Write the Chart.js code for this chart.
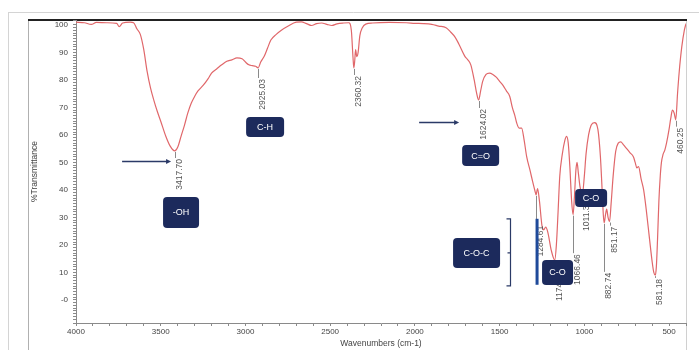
<!DOCTYPE html>
<html>
<head>
<meta charset="utf-8">
<script src="https://cdn.jsdelivr.net/npm/chart.js@4.4.1/dist/chart.umd.min.js"></script>
<style>
  html, body { margin: 0; padding: 0; background: #fff; }
  canvas { display: block; }
</style>
</head>
<body>
<canvas id="ftir" width="699" height="350" style="width:699px;height:350px"></canvas>
<script>
// FTIR spectrum, wavenumber (cm-1) vs % transmittance
const wavenumbers = [
  4000, 3950, 3910, 3880, 3820, 3760, 3745, 3725, 3680, 3660, 3640, 3620, 3600, 3580, 3560,
  3540, 3520, 3500, 3470, 3445, 3417.70, 3400, 3380, 3360, 3340, 3320, 3300, 3280, 3250, 3220,
  3200, 3170, 3140, 3110, 3080, 3050, 3020, 3000, 2980, 2960, 2940, 2925.03, 2910, 2890, 2870,
  2850, 2820, 2790, 2750, 2700, 2670, 2640, 2610, 2580, 2550, 2520, 2490, 2460, 2420, 2390,
  2375, 2365, 2360.32, 2355, 2350, 2343, 2335, 2325, 2310, 2290, 2250, 2150, 2050, 2000, 1950,
  1900, 1860, 1816, 1790, 1763, 1740, 1704, 1690, 1670, 1650, 1635, 1624.02, 1612, 1600, 1580,
  1560, 1540, 1520, 1500, 1480, 1460, 1440, 1425, 1410, 1400, 1385, 1370, 1355, 1340, 1320,
  1305, 1292, 1284.61, 1276, 1265, 1250, 1240, 1228, 1215, 1195, 1174.52, 1165, 1155, 1145, 1130,
  1115, 1105, 1095, 1085, 1075, 1066.46, 1058, 1050, 1043, 1035, 1025, 1011.34, 1000, 990, 975,
  960, 940, 920, 905, 895, 888, 882.74, 875, 868, 860, 851.17, 842, 830, 815, 800,
  785, 770, 750, 730, 710, 700, 690, 680, 665, 650, 635, 615, 600, 590, 581.18,
  575, 568, 560, 552, 545, 535, 525, 515, 500, 490, 480, 470, 460.25, 450, 440,
  425, 410, 400
];
const transmittance = [
  101.0, 100.8, 100.2, 100.9, 100.8, 100.6, 99.4, 100.7, 101.0, 100.8, 98.5, 96.5, 91, 83, 77,
  72.5, 68.5, 65, 59.5, 56, 54.2, 55.5, 59.5, 63.5, 68, 71.5, 74, 76, 78, 80.5,
  82.5, 84, 85.5, 86.8, 87.3, 88, 87.7, 86.5, 85.5, 85.2, 85.0, 84.4, 86.5, 88.5, 91.5,
  94.5, 96.5, 98, 99.5, 101, 101.1, 100.5, 99.8, 100.5, 100.7, 100.2, 99.8, 100.4, 100.7, 100.8,
  98, 88, 84.4, 87, 91, 88.5, 90, 96, 99, 100.3, 100.7, 100.9, 100.8, 100.6, 100.5,
  100.2, 99.6, 99, 97.5, 95.6, 93, 88.5, 87.5, 85.5, 80, 75, 72.7, 76, 79.5, 82,
  82.5, 82, 81, 79.5, 78, 76, 74, 70, 67, 64.5, 62.5, 62.5, 58, 52, 47,
  43, 39.8, 38.2, 40.5, 36, 27, 25.5, 26.5, 24.5, 18, 14.5, 20, 32, 45, 53,
  58, 59.5, 57, 48, 36, 31, 38, 47, 50, 46, 41, 38.5, 45, 53, 60,
  63.5, 64.5, 62, 52, 40, 31, 28, 31, 33, 30, 28.5, 35, 45, 54, 57,
  57.5, 56.5, 55, 53.5, 52, 50, 48, 48.5, 44, 40, 33, 22, 14, 10, 9,
  12, 22, 36, 45, 50, 53, 54.5, 57, 62, 66, 69, 68, 65.5, 75, 83,
  92, 98, 100.5
];

// Labelled peak positions and their printed values
const peakWavenumbers = [3417.70, 2925.03, 2360.32, 1624.02, 1284.61, 1174.52, 1066.46, 1011.34, 882.74, 851.17, 581.18, 460.25];
const peakTexts = ['3417.70', '2925.03', '2360.32', '1624.02', '1284.61', '1174.52', '1066.46', '1011.34', '882.74', '851.17', '581.18', '460.25'];

// Band assignment tags
const bandTags = ['-OH', 'C-H', 'C=O', 'C-O-C', 'C-O', 'C-O'];

// Axis tick values
const xMajorTicks = [4000, 3500, 3000, 2500, 2000, 1500, 1000, 500];
const yMajorTicks = [100, 90, 80, 70, 60, 50, 40, 30, 20, 10, 0];

const spectrum = wavenumbers.map((w, i) => ({ x: w, y: transmittance[i] }));

function tValueAt(w) {
  const i = wavenumbers.indexOf(w);
  return transmittance[i];
}

const FONT = '"Liberation Sans", Arial, sans-serif';

// Frame around the plot, peak markers, band tags, arrows and bracket
const spectrumMarkup = {
  id: 'spectrumMarkup',
  beforeDraw(chart) {
    const ctx = chart.ctx;
    const W = chart.width, H = chart.height;
    ctx.save();
    ctx.fillStyle = '#ffffff';
    ctx.fillRect(0, 0, W, H);
    ctx.lineWidth = 1;
    ctx.strokeStyle = '#d4d4d4';
    ctx.beginPath();
    ctx.moveTo(8, 12.5); ctx.lineTo(W, 12.5);
    ctx.moveTo(8.5, 12); ctx.lineTo(8.5, H);
    ctx.stroke();
    ctx.strokeStyle = '#b0b0b0';
    ctx.beginPath();
    ctx.moveTo(28.5, 20); ctx.lineTo(28.5, H);
    ctx.stroke();
    ctx.strokeStyle = '#d0d0d0';
    ctx.beginPath();
    ctx.moveTo(686.5, 20); ctx.lineTo(686.5, H);
    ctx.stroke();
    ctx.strokeStyle = '#222';
    ctx.lineWidth = 2;
    ctx.beginPath();
    ctx.moveTo(28, 20); ctx.lineTo(687, 20);
    ctx.stroke();
    ctx.restore();
  },
  afterDatasetsDraw(chart, args, opts) {
    const ctx = chart.ctx;
    const xs = chart.scales.x, ys = chart.scales.y;
    const px = v => xs.getPixelForValue(v);
    const py = v => ys.getPixelForValue(v);
    ctx.save();

    // peak leader lines and rotated values
    ctx.font = '8.5px ' + FONT;
    peakWavenumbers.forEach((w, i) => {
      const x = Math.round(px(w)) + 0.5;
      const yTop = py(tValueAt(w)) + 1;
      const yEnd = py(opts.labelTops[i]);
      ctx.strokeStyle = '#8a8a8a';
      ctx.lineWidth = 1;
      ctx.beginPath();
      ctx.moveTo(x, yTop);
      ctx.lineTo(x, yEnd);
      ctx.stroke();
      ctx.save();
      ctx.translate(x + 4.5, yEnd + 1);
      ctx.rotate(-Math.PI / 2);
      ctx.fillStyle = '#555';
      ctx.textAlign = 'right';
      ctx.textBaseline = 'middle';
      ctx.fillText(peakTexts[i], 0, 0);
      ctx.restore();
    });

    // C-O-C range bar
    const bar = opts.rangeBar;
    ctx.fillStyle = '#1f4a9a';
    ctx.fillRect(px(bar.x) - 1.5, py(bar.top), 3, py(bar.bottom) - py(bar.top));

    // bracket beside the C-O-C tag
    const br = opts.bracket;
    const bx = Math.round(px(br.x)) + 0.5;
    ctx.strokeStyle = '#2b3a67';
    ctx.lineWidth = 1.2;
    ctx.beginPath();
    ctx.moveTo(bx - 4, py(br.top)); ctx.lineTo(bx, py(br.top));
    ctx.lineTo(bx, py(br.bottom)); ctx.lineTo(bx - 4, py(br.bottom));
    ctx.moveTo(bx - 3, py(br.mid)); ctx.lineTo(bx, py(br.mid));
    ctx.stroke();

    // arrows
    opts.arrows.forEach(a => {
      const x1 = px(a.from), x2 = px(a.to), y = Math.round(py(a.y)) + 0.5;
      ctx.strokeStyle = '#2b3a67';
      ctx.fillStyle = '#2b3a67';
      ctx.lineWidth = 1.5;
      ctx.beginPath();
      ctx.moveTo(x1, y); ctx.lineTo(x2 - 4, y);
      ctx.stroke();
      ctx.beginPath();
      ctx.moveTo(x2, y); ctx.lineTo(x2 - 5, y - 2.5); ctx.lineTo(x2 - 5, y + 2.5);
      ctx.closePath();
      ctx.fill();
    });

    // band tags
    ctx.font = '9px ' + FONT;
    ctx.textAlign = 'center';
    ctx.textBaseline = 'middle';
    opts.tags.forEach((t, i) => {
      const cx = px(t.x), cy = py(t.y);
      ctx.fillStyle = '#1c2a5c';
      ctx.beginPath();
      ctx.roundRect(cx - t.w / 2, cy - t.h / 2, t.w, t.h, 4);
      ctx.fill();
      ctx.fillStyle = '#ffffff';
      ctx.fillText(bandTags[i], cx, cy + 0.5);
    });
    ctx.restore();
  }
};

const isMultiple = (v, step) => Math.abs(v - Math.round(v / step) * step) < 1e-6;

new Chart(document.getElementById('ftir'), {
  type: 'line',
  data: {
    datasets: [{
      data: spectrum,
      borderColor: '#e0676a',
      borderWidth: 1.2,
      pointRadius: 0,
      cubicInterpolationMode: 'monotone',
      fill: false
    }]
  },
  plugins: [spectrumMarkup],
  options: {
    responsive: false,
    animation: false,
    layout: { padding: { left: 0, right: 13, top: 20, bottom: 0 } },
    plugins: {
      legend: { display: false },
      tooltip: { enabled: false },
      spectrumMarkup: {
        labelTops: [51.6, 80.7, 81.8, 69.8, 27.3, 10.9, 17.0, 36.4, 10.2, 27.0, 8.0, 63.0],
        rangeBar: { x: 1279, top: 29.5, bottom: 5.5 },
        bracket: { x: 1438, top: 29.5, mid: 17.1, bottom: 5.1 },
        arrows: [
          { from: 3728, to: 3439, y: 50.7 },
          { from: 1975, to: 1739, y: 64.7 }
        ],
        tags: [
          { x: 3380, y: 31.8, w: 36, h: 31 },
          { x: 2884, y: 62.9, w: 38, h: 20 },
          { x: 1612, y: 52.5, w: 37, h: 21 },
          { x: 1636, y: 17.1, w: 47, h: 30 },
          { x: 1158, y: 10.0, w: 31, h: 25 },
          { x: 960, y: 37.1, w: 32, h: 18 }
        ]
      }
    },
    scales: {
      x: {
        type: 'linear',
        reverse: true,
        min: 400,
        max: 4000,
        afterFit: s => { s.height = 27; },
        ticks: {
          stepSize: 100,
          autoSkip: false,
          maxRotation: 0,
          padding: 1,
          color: '#444',
          font: { family: FONT, size: 8 },
          callback: v => (xMajorTicks.includes(v) ? String(v) : '')
        },
        grid: { drawOnChartArea: false, tickLength: 3, color: '#8a8a8a' },
        border: { color: '#8a8a8a' },
        title: {
          display: true,
          text: 'Wavenumbers (cm-1)',
          color: '#444',
          font: { family: FONT, size: 8.5 },
          padding: { top: 0, bottom: 1 }
        }
      },
      y: {
        min: -8.4,
        max: 101.8,
        afterFit: s => { s.width = 76; },
        ticks: {
          stepSize: 1,
          autoSkip: false,
          padding: 5,
          color: '#444',
          font: { family: FONT, size: 8 },
          callback: v => {
            if (!isMultiple(v, 10)) return '';
            const n = Math.round(v);
            if (!yMajorTicks.includes(n)) return '';
            return n === 0 ? '-0' : String(n);
          }
        },
        grid: { drawOnChartArea: false, tickLength: 3, color: '#8a8a8a' },
        border: { color: '#8a8a8a' },
        title: {
          display: true,
          text: '%Transmittance',
          color: '#444',
          font: { family: FONT, size: 8.5 },
          padding: { top: 30, bottom: 0 }
        }
      }
    }
  }
});
</script>
</body>
</html>
